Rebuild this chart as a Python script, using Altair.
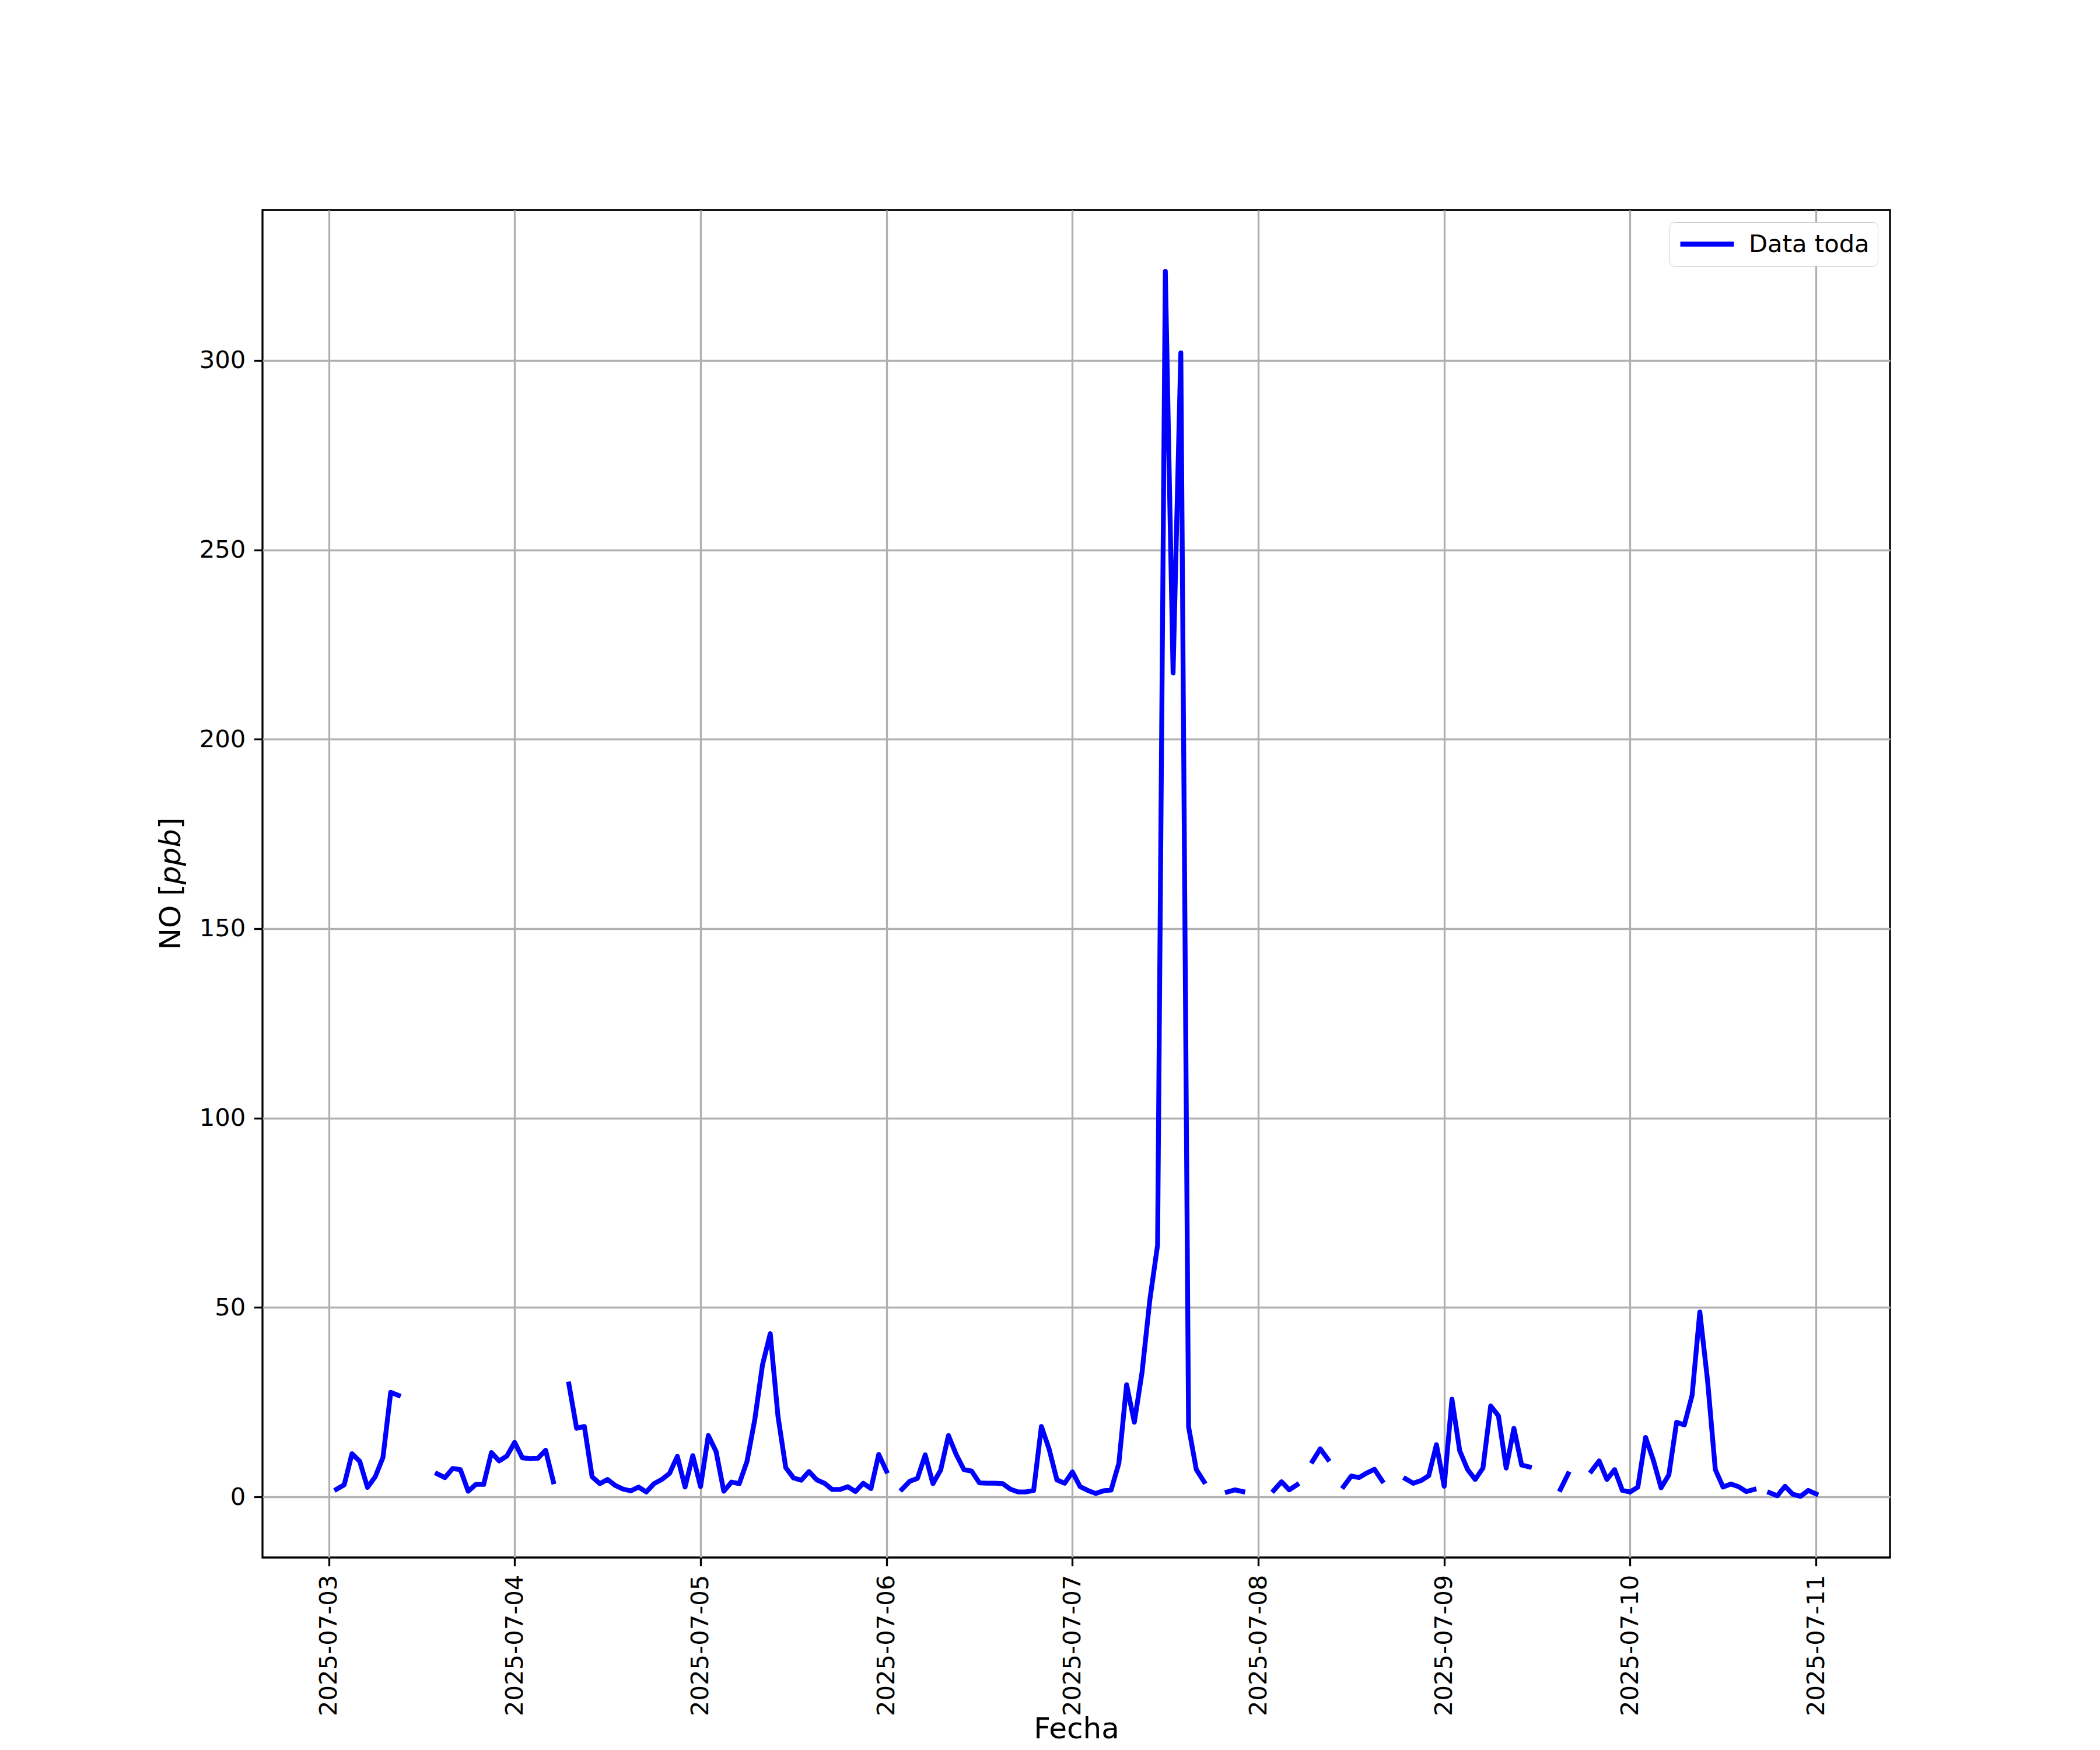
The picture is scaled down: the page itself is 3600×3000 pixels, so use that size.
import altair as alt
import pandas as pd

N = None
# Hourly NO values [ppb], 00:00 .. 23:00 each day (None = missing)
no_0703 = [N, 2.0, 3.2, 11.4, 9.4, 2.5, 5.3, 10.4, 27.6, 26.8, N, N,
           N, N, 6.1, 5.1, 7.5, 7.2, 1.5, 3.3, 3.3, 11.7, 9.5, 10.8]
no_0704 = [14.4, 10.3, 10.1, 10.2, 12.3, 4.0, N, 29.8, 18.1, 18.6, 5.3, 3.5,
           4.6, 3.0, 2.05, 1.6, 2.6, 1.3, 3.5, 4.6, 6.2, 10.7, 2.6, 10.9]
no_0705 = [2.7, 16.2, 12.0, 1.5, 3.9, 3.5, 9.4, 20.4, 34.9, 43.1, 21.2, 7.7,
           5.0, 4.4, 6.7, 4.5, 3.6, 1.95, 1.95, 2.7, 1.4, 3.6, 2.2, 11.2]
no_0706 = [6.8, N, 2.0, 4.1, 4.9, 11.1, 3.5, 7.1, 16.2, 11.2, 7.2, 6.8,
           3.7, 3.6, 3.6, 3.5, 2.05, 1.3, 1.3, 1.7, 18.6, 12.6, 4.5, 3.6]
no_0707 = [6.6, 2.7, 1.7, 0.9, 1.6, 1.8, 8.9, 29.6, 19.7, 33.0, 52.0, 66.5,
           323.5, 217.5, 302.0, 18.5, 7.2, 4.0, N, N, 1.3, 1.85, 1.4, N]
no_0708 = [N, N, 1.7, 4.0, 1.85, 3.2, N, 9.4, 12.7, 9.9, N, 2.7,
           5.5, 5.1, 6.3, 7.3, 4.2, N, N, 4.8, 3.6, 4.3, 5.6, 13.8]
no_0709 = [2.8, 25.8, 12.2, 7.3, 4.6, 7.6, 24.0, 21.4, 7.6, 18.1, 8.4, 7.9,
           N, N, N, 1.95, 6.1, N, N, 6.8, 9.5, 4.6, 7.2, 1.7]
no_0710 = [1.3, 2.6, 15.7, 9.7, 2.4, 5.8, 19.7, 19.0, 26.8, 48.8, 30.7, 7.2,
           2.6, 3.4, 2.7, 1.4, 1.95, N, 1.1, 0.3, 2.8, 0.7, 0.15, 1.7]
no_0711 = [0.77]

days = ["2025-07-03", "2025-07-04", "2025-07-05", "2025-07-06", "2025-07-07",
        "2025-07-08", "2025-07-09", "2025-07-10", "2025-07-11"]
series = [no_0703, no_0704, no_0705, no_0706, no_0707, no_0708, no_0709, no_0710, no_0711]

rows = []
seg = 0
for day, vals in zip(days, series):
    for h, v in enumerate(vals):
        if v is None:
            seg += 1
            continue
        rows.append({"fecha": f"{day}T{h:02d}:00:00Z", "no": v, "seg": seg, "serie": "Data toda"})
df = pd.DataFrame(rows)

FONT = "DejaVu Sans"
tick_vals = [alt.DateTime(year=2025, month=7, date=d, utc=True) for d in range(3, 12)]
x_dom = [alt.DateTime(year=2025, month=7, date=2, hours=15, minutes=27, utc=True),
         alt.DateTime(year=2025, month=7, date=11, hours=9, minutes=33, utc=True)]

line = alt.Chart(df).mark_line(
    strokeWidth=8.3, strokeCap="square", strokeJoin="round", clip=True
).encode(
    x=alt.X("fecha:T",
            scale=alt.Scale(type="utc", domain=x_dom, nice=False),
            axis=alt.Axis(title="Fecha", values=tick_vals,
                          labelExpr="utcFormat(datum.value, '%Y-%m-%d')",
                          labelAngle=270, labelFlush=False, labelLimit=1000,
                          labelOverlap=False, titleBaseline="middle", titleY=294)),
    y=alt.Y("no:Q",
            scale=alt.Scale(domain=[-16.0, 339.7], nice=False, zero=False),
            axis=alt.Axis(title=None, values=[0, 50, 100, 150, 200, 250, 300],
                          labelFlush=False, labelOverlap=False)),
    color=alt.Color("serie:N",
                    scale=alt.Scale(domain=["Data toda"], range=["#0000ff"]),
                    legend=alt.Legend(title=None, orient="none", legendX=2412, legendY=21,
                                      symbolType="stroke", symbolStrokeWidth=8.3,
                                      symbolSize=8464, labelFontSize=41.7, labelFont=FONT,
                                      labelColor="black", padding=14, labelOffset=21,
                                      labelLimit=1000, clipHeight=47,
                                      strokeColor="#cccccc", fillColor="white",
                                      cornerRadius=8)),
    detail="seg:N",
)

ytitle_parts = ["NO [", "ppb", "]"]
ytitle_y = [1268.5, 1156.3, 1061.0]
ytitle_style = ["normal", "italic", "normal"]
ylayers = []
for txt, yy, st in zip(ytitle_parts, ytitle_y, ytitle_style):
    ylayers.append(
        alt.Chart(pd.DataFrame({"t": [txt]})).mark_text(
            angle=270, align="left", baseline="middle", font=FONT, fontSize=50,
            fontStyle=st, color="black"
        ).encode(x=alt.value(-156), y=alt.value(yy), text="t:N")
    )

chart = alt.layer(line, *ylayers).properties(
    width=2790, height=2310,
    padding={"left": 442, "top": 352, "right": 352, "bottom": 322},
    autosize="none", background="white",
).configure_view(
    stroke="black", strokeWidth=3.3
).configure_axis(
    labelFont=FONT, labelFontSize=41.7, labelColor="black", labelLimit=1000,
    tickColor="black", tickWidth=3.3, tickSize=14.6, labelPadding=14.6,
    gridColor="#b0b0b0", gridWidth=3.3, domain=False,
    titleFont=FONT, titleFontSize=50, titleFontWeight="normal", titleColor="black",
)

chart.save("out.html", embed_options={"renderer": "svg", "actions": False})
